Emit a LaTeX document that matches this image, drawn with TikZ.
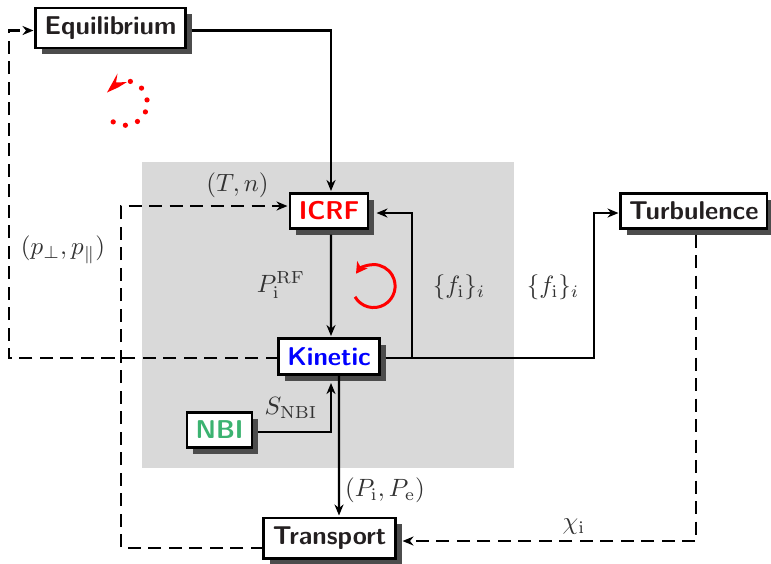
\documentclass[tikz,border=0pt]{standalone}
\usetikzlibrary{arrows.meta,calc,shadows}
\definecolor{nbigreen}{RGB}{60,179,113}
\definecolor{ink}{RGB}{35,31,32}
\definecolor{lab}{RGB}{50,50,50}
\tikzset{
 x=0.4pt,y=-0.4pt,
 blk/.style={draw=black,line width=0.9pt,fill=white,inner sep=0pt,outer sep=0pt,
   font=\sffamily\bfseries\fontsize{10.3}{12}\selectfont,text=ink,anchor=north west,
   general shadow={shadow xshift=2.4pt,shadow yshift=-2.4pt,fill=black!70,draw=none}},
 conn/.style={line width=0.9pt,-{Stealth[length=4.4pt,width=3.6pt,inset=1.4pt]},shorten >=0.6pt},
 sline/.style={conn,shorten <=2.4pt},
 dline/.style={conn,dash pattern=on 5.2pt off 3pt},
 lbl/.style={text=lab,inner sep=0pt},
}
\begin{document}
\begin{tikzpicture}
\useasboundingbox (0,0) rectangle (771,563);
\fill[black!15] (142,162) rectangle (514,468);
\node[blk,minimum width=60pt,minimum height=16.2pt] (eq) at (35.5,7.8) {Equilibrium};
\node[blk,minimum width=31.2pt,minimum height=14pt,text=red] (icrf) at (290,193.5) {ICRF};
\node[blk,minimum width=40.4pt,minimum height=14.4pt,text=blue] (kin) at (278.5,338.5) {Kinetic};
\node[blk,minimum width=26pt,minimum height=14pt,text=nbigreen] (nbi) at (187,412.5) {NBI};
\node[blk,minimum width=52.8pt,minimum height=16.2pt] (tr) at (263.5,518) {Transport};
\node[blk,minimum width=58.6pt,minimum height=14pt] (tu) at (620.5,193.5) {Turbulence};
\coordinate (leftc) at (9,30.5);
\coordinate (b1) at (121,548);
\coordinate (b2) at (121,206);
\coordinate (b3) at (412,358);
\coordinate (b4) at (412,213);
\coordinate (b5) at (594,358);
\coordinate (b7) at (696,541);
\coordinate (eqin) at (35,30.5);
\coordinate (icrfin) at (289,206);
\coordinate (icrfr) at (375,213);
\coordinate (tuin) at (620,213);
\coordinate (trin) at (401,541);
\draw[sline] ([yshift=-1pt]eq.east) -| ([xshift=0.8pt,yshift=0.4pt]icrf.north);
\draw[sline] ([xshift=0.8pt]icrf.south) -- ([xshift=0.8pt,yshift=0.4pt]kin.north);
\draw[sline] (kin.east|-b3) -- (b3) -- (b4) -- (icrfr);
\draw[sline] (kin.east|-b3) -- (b5) |- (tuin);
\draw[sline] ([yshift=-0.8pt]nbi.east) -| ([xshift=0.8pt,yshift=-2.8pt]kin.south);
\draw[sline,shorten <=0pt] ([xshift=4pt,yshift=-0.2pt]kin.south) -- ([xshift=3.8pt,yshift=0.4pt]tr.north);
\draw[dline,shorten <=0pt] (kin.west|-b3) -| (leftc) -- (eqin);
\draw[dline,shorten <=0pt] (tr.west|-b1) -- (b1) -- (b2) -- (icrfin);
\draw[dline,shorten <=2.4pt] (tu.south-|b7) -- (b7) -- (trin);
\node[lbl] (l1) at (237.5,185) {$(T,n)$};
\node[lbl] (l2) at (63,250) {$(p_\perp,p_\parallel)$};
\node[lbl] (l3) at (281,285) {$P_{\mathrm{i}}^{\mathrm{RF}}$};
\node[lbl] (l4) at (459,287) {$\{f_{\mathrm{i}}\}_i$};
\node[lbl] (l5) at (553,287) {$\{f_{\mathrm{i}}\}_i$};
\node[lbl] (l6) at (291,408) {$S_{\mathrm{NBI}}$};
\node[lbl] (l7) at (385,490) {$(P_{\mathrm{i}},P_{\mathrm{e}})$};
\node[lbl] (l8) at (574,527) {$\chi_{\mathrm{i}}$};
\draw[red,line width=1.2pt,-{Stealth[length=4.4pt,width=5pt,inset=1.2pt]}] (355,296.8) arc[start angle=210,end angle=505,radius=8.6pt];
\foreach \a in {76,42,8,-23.5,-56,-89,-122}
  \fill[red] (125,103) ++(\a:8.9pt) circle[radius=1.05pt];
\fill[red] (107,92.5) -- (117.5,73.5) -- (116,82.5) -- (127,82) -- (118,87.5) -- cycle;
\end{tikzpicture}
\end{document}
